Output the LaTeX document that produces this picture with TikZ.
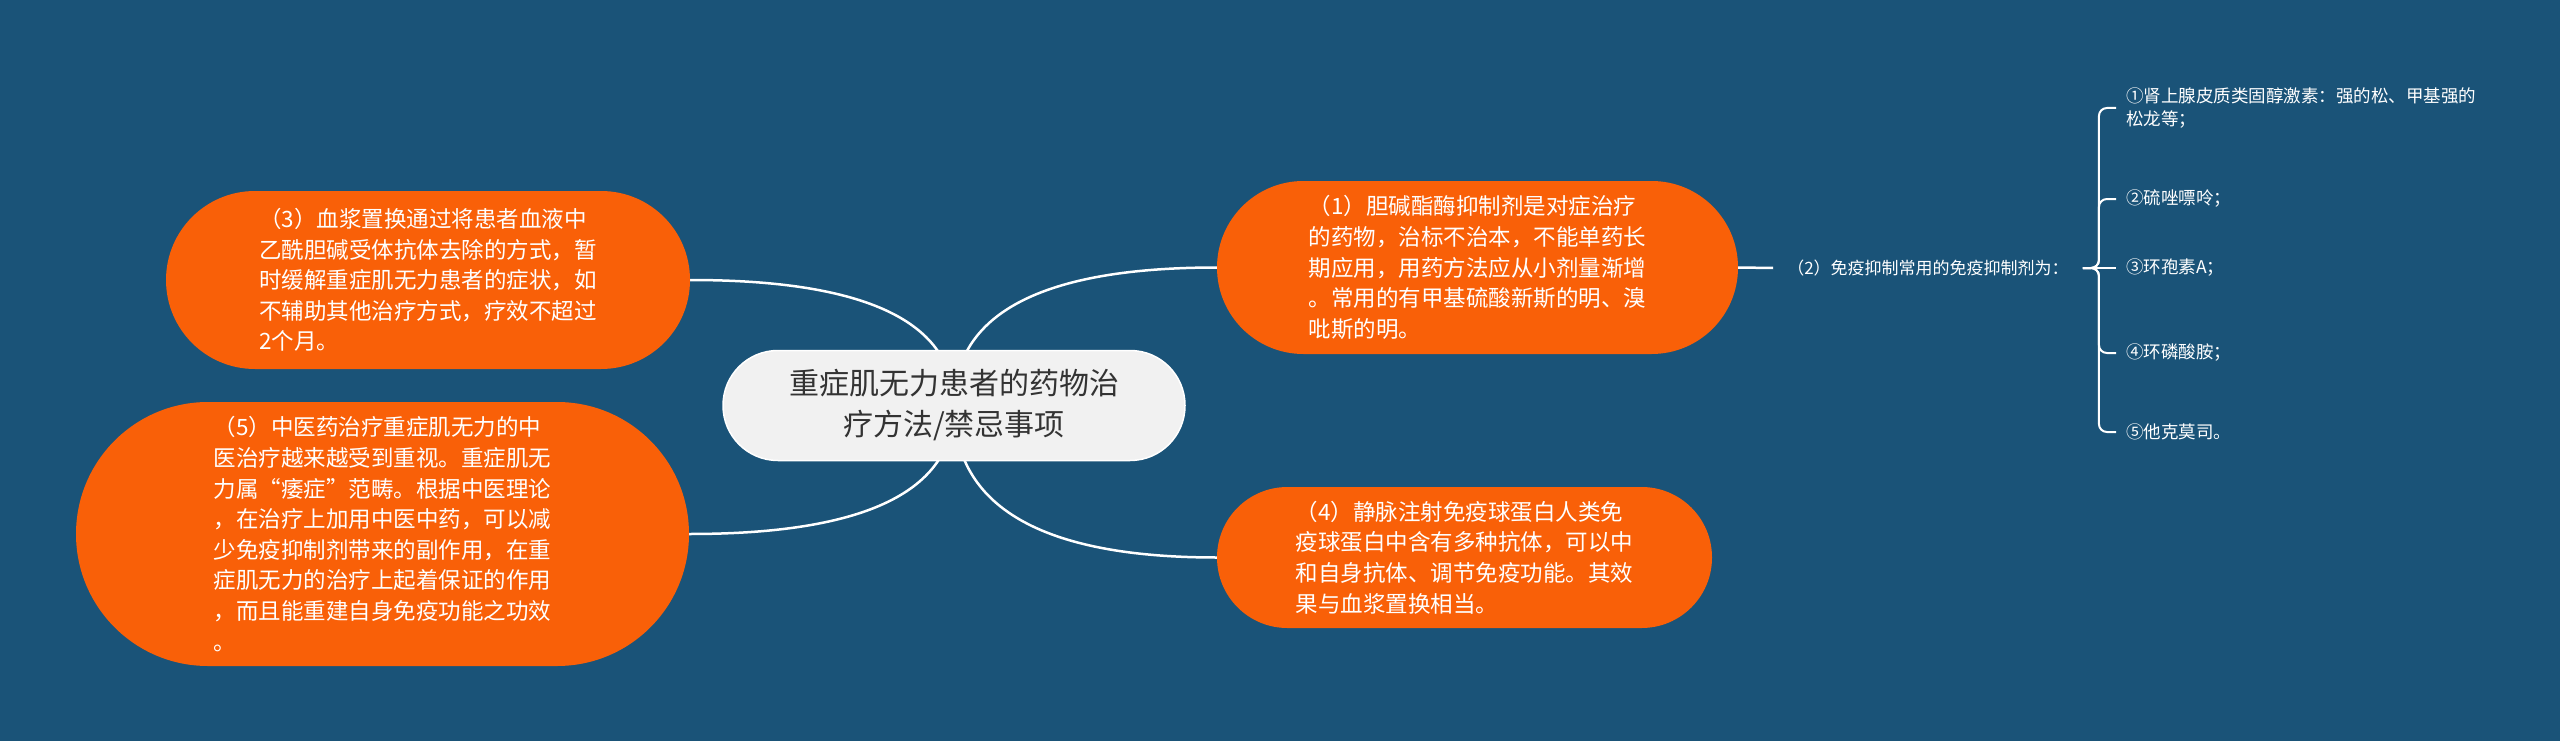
\documentclass[tikz,border=0pt]{standalone}
\usepackage{fontspec}
\setmainfont{Noto Sans CJK SC}
\usetikzlibrary{calc}
\definecolor{bgc}{RGB}{26,83,120}
\definecolor{org}{RGB}{249,96,8}
\definecolor{cgray}{RGB}{241,241,241}
\definecolor{ctext}{RGB}{51,51,51}
\pgfdeclarelayer{bg}
\pgfsetlayers{bg,main}
\tikzset{
  conn/.style={draw=white, line width=2.5pt},
  brk/.style={draw=white, line width=2pt, rounded corners=8pt},
  topic/.style={fill=org, text=white, align=left, inner sep=0pt, font=\fontsize{22.5}{30.6}\selectfont},
  ctopic/.style={fill=cgray, draw=white, line width=1.5pt, text=ctext, align=center, inner sep=0pt, font=\fontsize{30}{41}\selectfont},
  lbl/.style={text=white, inner xsep=14pt, inner ysep=4pt, font=\fontsize{17}{22}\selectfont},
  item/.style={text=white, anchor=west, align=left, inner xsep=10pt, inner ysep=4pt, font=\fontsize{17.5}{23}\selectfont},
}
\begin{document}
\begin{tikzpicture}[x=1pt, y=-1pt]
\useasboundingbox (0,0) rectangle (2560,741);
\begin{pgfonlayer}{bg}
\fill[bgc] (0,0) rectangle (2560,741);
\end{pgfonlayer}

\node[ctopic, minimum width=462pt, minimum height=110pt, rounded corners=54.9pt] (C) at (954,405.5)
  {重症肌无力患者的药物治\\疗方法/禁忌事项};

\node[topic, minimum width=521pt, minimum height=173pt, rounded corners=86.4pt] (N1) at (1477.5,267.5)
  {（1）胆碱酯酶抑制剂是对症治疗\\的药物，治标不治本，不能单药长\\期应用，用药方法应从小剂量渐增\\。常用的有甲基硫酸新斯的明、溴\\吡斯的明。};

\node[topic, minimum width=524pt, minimum height=178pt, rounded corners=88.9pt] (N3) at (428,280)
  {（3）血浆置换通过将患者血液中\\乙酰胆碱受体抗体去除的方式，暂\\时缓解重症肌无力患者的症状，如\\不辅助其他治疗方式，疗效不超过\\2个月。};

\node[topic, minimum width=613pt, minimum height=264pt, rounded corners=131.9pt] (N5) at (382.5,534)
  {（5）中医药治疗重症肌无力的中\\医治疗越来越受到重视。重症肌无\\力属“痿症”范畴。根据中医理论\\，在治疗上加用中医中药，可以减\\少免疫抑制剂带来的副作用，在重\\症肌无力的治疗上起着保证的作用\\，而且能重建自身免疫功能之功效\\。};

\node[topic, minimum width=495pt, minimum height=141pt, rounded corners=70.4pt] (N4) at (1464.5,557.5)
  {（4）静脉注射免疫球蛋白人类免\\疫球蛋白中含有多种抗体，可以中\\和自身抗体、调节免疫功能。其效\\果与血浆置换相当。};

\node[lbl] (L) at (1928,268) {（2）免疫抑制常用的免疫抑制剂为：};

\node[item] (I1) at (2116,108) {①肾上腺皮质类固醇激素：强的松、甲基强的\\松龙等；};
\node[item] (I2) at (2116,199) {②硫唑嘌呤；};
\node[item] (I3) at (2116,268) {③环孢素A；};
\node[item] (I4) at (2116,353) {④环磷酸胺；};
\node[item] (I5) at (2116,432) {⑤他克莫司。};

\coordinate (k1) at (C.center |- N1.west);
\coordinate (k3) at (C.center |- N3.east);
\coordinate (k4) at (C.center |- N4.west);
\coordinate (k5) at (C.center |- N5.east);

\begin{pgfonlayer}{bg}
\draw[conn] (C.center) .. controls ($(C.center)!0.667!(k1)$) and ($(N1.west)!0.667!(k1)$) .. (N1.west);
\draw[conn] (C.center) .. controls ($(C.center)!0.667!(k3)$) and ($(N3.east)!0.667!(k3)$) .. (N3.east);
\draw[conn] (C.center) .. controls ($(C.center)!0.667!(k4)$) and ($(N4.west)!0.667!(k4)$) .. (N4.west);
\draw[conn] (C.center) .. controls ($(C.center)!0.667!(k5)$) and ($(N5.east)!0.667!(k5)$) .. (N5.east);
\end{pgfonlayer}

\draw[conn] (N1.east) -- (L.west);
\draw[brk] (L.east) -- ++(16,0) |- (I1.west);
\draw[brk] (L.east) -- ++(16,0) |- (I2.west);
\draw[brk] (L.east) -- (I3.west);
\draw[brk] (L.east) -- ++(16,0) |- (I4.west);
\draw[brk] (L.east) -- ++(16,0) |- (I5.west);
\end{tikzpicture}
\end{document}
